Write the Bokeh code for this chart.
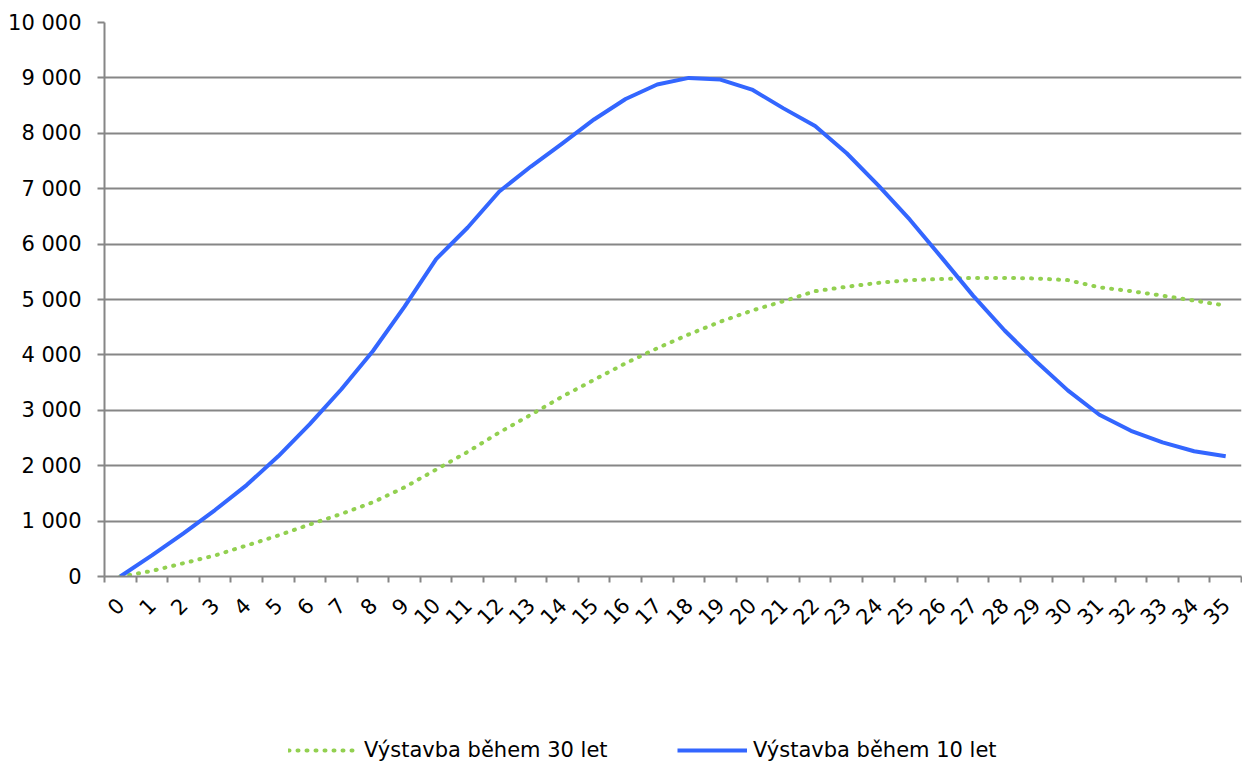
import math
from bokeh.plotting import figure
from bokeh.layouts import column
from bokeh.models import FixedTicker, Legend, LegendItem, Range1d
from bokeh.embed import file_html
from bokeh.resources import INLINE

# ---- data ----
years = list(range(36))
x_labels = [str(y) for y in years]
build_30 = [0, 100, 240, 380, 560, 740, 940, 1130, 1340, 1610, 1930, 2250, 2600,
            2920, 3250, 3550, 3850, 4120, 4370, 4600, 4800, 4970, 5150, 5230,
            5300, 5350, 5370, 5390, 5390, 5380, 5350, 5220, 5150, 5070, 4980, 4890]
build_10 = [0, 380, 780, 1200, 1650, 2170, 2750, 3380, 4070, 4870, 5730, 6300,
            6950, 7400, 7820, 8250, 8620, 8880, 9000, 8970, 8790, 8450, 8130,
            7640, 7060, 6440, 5760, 5070, 4440, 3880, 3360, 2920, 2630, 2420,
            2260, 2170]
y_ticks = [0, 1000, 2000, 3000, 4000, 5000, 6000, 7000, 8000, 9000, 10000]
y_tick_labels = ["0", "1 000", "2 000", "3 000", "4 000", "5 000", "6 000",
                 "7 000", "8 000", "9 000", "10 000"]
series_names = ["Výstavba během 30 let", "Výstavba během 10 let"]

FONT = "DejaVu Sans"
GRAY = "#868686"
GREEN = "#92D050"
BLUE = "#3366FF"

p = figure(width=1242, height=640, output_backend="svg", toolbar_location=None,
           x_range=Range1d(-0.5, len(years) - 0.5), y_range=Range1d(0, 10000),
           min_border_left=104, min_border_right=1, min_border_top=22,
           min_border_bottom=64)
p.outline_line_color = None

p.line(years, build_30, line_color=GREEN, line_width=4,
       line_dash="1 8", line_cap="round")
p.line(years, build_10, line_color=BLUE, line_width=4, line_join="round")

# x axis: labels at category centers, tick marks between categories
p.xaxis.ticker = FixedTicker(ticks=years, minor_ticks=[y - 0.5 for y in years] + [len(years) - 0.5])
p.xaxis.major_label_overrides = {y: l for y, l in zip(years, x_labels)}
p.xaxis.major_tick_out = 0
p.xaxis.major_tick_in = 0
p.xaxis.minor_tick_out = 6
p.xaxis.minor_tick_in = 0
p.xaxis.minor_tick_line_color = GRAY
p.xaxis.minor_tick_line_width = 2
p.xaxis.axis_line_color = GRAY
p.xaxis.axis_line_width = 2
p.xaxis.major_label_orientation = math.pi / 4
p.xaxis.major_label_standoff = 19
p.xaxis.major_label_text_font = FONT
p.xaxis.major_label_text_font_size = "21px"
p.xaxis.major_label_text_color = "#000000"
p.xgrid.visible = False

# y axis
p.yaxis.ticker = FixedTicker(ticks=y_ticks, minor_ticks=[])
p.yaxis.major_label_overrides = {t: l for t, l in zip(y_ticks, y_tick_labels)}
p.yaxis.major_tick_out = 7
p.yaxis.major_tick_in = 0
p.yaxis.major_tick_line_color = GRAY
p.yaxis.major_tick_line_width = 2
p.yaxis.minor_tick_out = 0
p.yaxis.minor_tick_in = 0
p.yaxis.axis_line_color = GRAY
p.yaxis.axis_line_width = 2
p.yaxis.major_label_standoff = 16
p.yaxis.major_label_text_font = FONT
p.yaxis.major_label_text_font_size = "21px"
p.yaxis.major_label_text_color = "#000000"
p.ygrid.grid_line_color = GRAY
p.ygrid.grid_line_width = 2

# legend strip below the chart (same series, drawn out of view)
p2 = figure(width=1242, height=124, output_backend="svg", toolbar_location=None,
            x_range=Range1d(-0.5, len(years) - 0.5), y_range=Range1d(20000, 30000),
            x_axis_type=None, y_axis_type=None,
            min_border_left=104, min_border_right=1, min_border_top=0,
            min_border_bottom=0)
p2.outline_line_color = None
p2.xgrid.visible = False
p2.ygrid.visible = False
l30 = p2.line(years, build_30, line_color=GREEN, line_width=4,
              line_dash="1 8", line_cap="round")
l10 = p2.line(years, build_10, line_color=BLUE, line_width=4)

legend = Legend(items=[LegendItem(label=series_names[0], renderers=[l30]),
                       LegendItem(label=series_names[1], renderers=[l10])],
                orientation="horizontal", location=(184, 2),
                glyph_width=70, glyph_height=20, label_standoff=6, spacing=10,
                label_width=303,
                padding=0, margin=0, border_line_color=None,
                background_fill_alpha=0,
                label_text_font=FONT, label_text_font_size="21px",
                label_text_color="#000000")
p2.add_layout(legend, "center")

layout = column(p, p2, spacing=0)
open("out.html", "w").write(file_html(layout, INLINE))
